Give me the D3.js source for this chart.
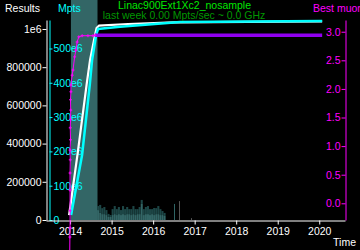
<!DOCTYPE html>
<html>
<head>
<meta charset="utf-8">
<script src="https://cdn.jsdelivr.net/npm/d3@7"></script>
<style>
body { margin: 0; background: #000; }
svg { display: block; background: #000; font-family: "Liberation Sans", Arial, sans-serif; font-size: 10.5px; }
</style>
</head>
<body>
<svg id="chart" width="360" height="250"></svg>
<script>
var title = "Linac900Ext1Xc2_nosample";
var subtitle = "last week 0.00 Mpts/sec ~ 0.0 GHz";

var yearTicks = [2014, 2015, 2016, 2017, 2018, 2019, 2020];
var resultsTicks = [0, 200000, 400000, 600000, 800000, 1000000];
var mptsTicks = [0, 100e6, 200e6, 300e6, 400e6, 500e6];
var muonTicks = [0, 0.5, 1, 1.5, 2, 2.5, 3];

// active period band
var bandStart = 2014.02, bandEnd = 2014.66;

var resultsYears = [2013.976, 2014.193, 2014.397, 2014.481, 2014.553, 2014.601, 2014.638, 2014.698, 2015.40, 2016.50, 2020.07];
var resultsValues = [26000, 366000, 707000, 838000, 916000, 969000, 1005000, 1018000, 1026000, 1035000, 1040000];

var mptsYears = [2014.024, 2014.289, 2014.474, 2014.53, 2014.626, 2014.674, 2015.20, 2016.65, 2020.07];
var mptsValues = [14.6e6, 189.5e6, 393.6e6, 466e6, 539e6, 557e6, 563e6, 577e6, 580e6];

var muonYears = [2013.99, 2013.995, 2014.0, 2014.0, 2014.0, 2014.0, 2014.005, 2014.0, 2014.01, 2014.005,
  2014.01, 2014.015, 2014.01, 2014.02, 2014.02, 2014.05, 2014.07, 2014.11, 2014.14, 2014.17,
  2014.21, 2014.29, 2014.43, 2014.55, 2014.60];
var muonValues = [-0.99, -0.59, -0.43, -0.13, 0.23, 0.53, 0.76, 0.93, 1.11, 1.32,
  1.46, 1.63, 1.81, 1.95, 2.07, 2.24, 2.33, 2.56, 2.68, 2.82,
  2.91, 2.93, 2.93, 2.93, 2.94];

var bestYears = [2014.60, 2020.07];
var bestValues = [2.94, 2.94];

// results per bin (bins 0.05 yr wide)
var histStart = 2014.65, histStep = 0.05;
var histLight = [52000, 37000, 31000, 31000, 26000, 16000, 16000, 26000, 31000, 26000, 31000, 26000, 31000, 26000,
  31000, 31000, 26000, 31000, 26000, 31000, 31000, 84000, 26000, 31000, 31000, 26000, 31000, 26000, 31000,
  31000, 26000, 26000, 21000];
var histDark = [21000, 42000, 31000, 37000, 26000, 16000, 10000, 31000, 42000, 31000, 37000, 26000, 42000, 31000,
  37000, 26000, 31000, 42000, 31000, 26000, 37000, 21000, 31000, 37000, 42000, 31000, 26000, 37000, 31000,
  42000, 31000, 21000, 16000];
var spikeYears = [2016.51, 2016.63, 2016.91];
var spikeValues = [84000, 99000, 10000];

var svg = d3.select("#chart");

var x = d3.scaleLinear().domain([2013.42, 2020.62]).range([46, 345]);
var yRes = d3.scaleLinear().domain([0, 1.047e6]).range([220, 20]);
var yMpts = d3.scaleLinear().domain([0, 583e6]).range([220, 20]);
var yMuon = d3.scaleLinear().domain([-0.292, 3.205]).range([220, 20]);

svg.append("rect")
  .attr("x", x(bandStart))
  .attr("y", 0)
  .attr("width", x(bandEnd) - x(bandStart))
  .attr("height", yRes(0))
  .attr("fill", "#336666");

var bins = histLight.map(function(v, i) {
  return { t: histStart + i * histStep, light: v, dark: histDark[i] };
});
var hist = svg.append("g");
hist.selectAll(".light").data(bins).enter().append("rect")
  .attr("x", function(d) { return x(d.t); })
  .attr("width", x(histStart + histStep) - x(histStart))
  .attr("y", function(d) { return yRes(d.light); })
  .attr("height", function(d) { return yRes(0) - yRes(d.light); })
  .attr("fill", "#336666");
hist.selectAll(".dark").data(bins).enter().append("rect")
  .attr("x", function(d) { return x(d.t); })
  .attr("width", x(histStart + histStep) - x(histStart))
  .attr("y", function(d) { return yRes(d.light + d.dark); })
  .attr("height", function(d) { return yRes(d.light) - yRes(d.light + d.dark); })
  .attr("fill", "#1d4646");
var spikeColors = ["#2f6464", "#555555", "#555555"];
hist.selectAll(".spike").data(spikeYears).enter().append("rect")
  .attr("x", function(d) { return Math.round(x(d)); })
  .attr("width", 1)
  .attr("y", function(d, i) { return yRes(spikeValues[i]); })
  .attr("height", function(d, i) { return yRes(0) - yRes(spikeValues[i]); })
  .attr("fill", function(d, i) { return spikeColors[i]; });

function style_axis(g, color) {
  g.attr("font-family", null).attr("font-size", null);
  g.select(".domain").attr("stroke", color);
  g.selectAll(".tick line").attr("stroke", color);
  g.selectAll(".tick text").attr("fill", color);
}

svg.append("g")
  .attr("transform", "translate(46.5,0)")
  .call(d3.axisLeft(yRes).tickValues(resultsTicks).tickSize(4).tickSizeOuter(0).tickPadding(1)
    .tickFormat(function(d) { return d === 1e6 ? "1e6" : d; }))
  .call(style_axis, "#ffffff");

svg.append("g")
  .attr("transform", "translate(49.5,0)")
  .call(d3.axisRight(yMpts).tickValues(mptsTicks).tickSize(3).tickSizeOuter(0).tickPadding(1)
    .tickFormat(function(d) { return d === 0 ? "0" : (d / 1e6) + "e6"; }))
  .call(style_axis, "#00ffff");

svg.append("g")
  .attr("transform", "translate(345.5,0)")
  .call(d3.axisLeft(yMuon).tickValues(muonTicks).tickSize(4).tickSizeOuter(0).tickPadding(1)
    .tickFormat(d3.format(".1f")))
  .call(style_axis, "#ff00ff");

svg.append("g")
  .attr("transform", "translate(0,220.5)")
  .call(d3.axisBottom(x).tickValues(yearTicks).tickSize(4).tickSizeOuter(0).tickPadding(3)
    .tickFormat(d3.format("d")))
  .call(style_axis, "#ffffff");

var line = d3.line();

svg.append("path")
  .attr("d", line(resultsYears.map(function(t, i) { return [x(t), yRes(resultsValues[i])]; })))
  .attr("fill", "none")
  .attr("stroke", "#ffffff")
  .attr("stroke-width", 2.2);

svg.append("path")
  .attr("d", line(mptsYears.map(function(t, i) { return [x(t), yMpts(mptsValues[i])]; })))
  .attr("fill", "none")
  .attr("stroke", "#00ffff")
  .attr("stroke-width", 2.5);

svg.append("path")
  .attr("d", line(bestYears.map(function(t, i) { return [x(t), yMuon(bestValues[i])]; })))
  .attr("fill", "none")
  .attr("stroke", "#9000f0")
  .attr("stroke-width", 3.5);

var muonPts = muonYears.map(function(t, i) { return [x(t), yMuon(muonValues[i])]; });
svg.append("path")
  .attr("d", line(muonPts))
  .attr("fill", "none")
  .attr("stroke", "#ff00ff")
  .attr("stroke-width", 1);
svg.append("g").selectAll("path").data(muonPts.slice(1)).enter().append("path")
  .attr("d", function(d) {
    return "M" + (d[0] - 1.5) + "," + d[1] + "h3M" + d[0] + "," + (d[1] - 1.5) + "v3";
  })
  .attr("stroke", "#ff00ff")
  .attr("stroke-width", 1);

svg.append("text").attr("x", 5).attr("y", 12).attr("fill", "#ffffff").text("Results");
svg.append("text").attr("x", 58).attr("y", 12).attr("fill", "#00ffff").text("Mpts");
svg.append("text").attr("x", 313).attr("y", 12).attr("fill", "#ff00ff").text("Best muon");
svg.append("text").attr("x", 184.5).attr("y", 8.5).attr("text-anchor", "middle").attr("fill", "#00e600").text(title);
svg.append("text").attr("x", 184).attr("y", 18.5).attr("text-anchor", "middle").attr("fill", "#009600").text(subtitle);
svg.append("text").attr("x", 356).attr("y", 246).attr("text-anchor", "end").attr("fill", "#ffffff").text("Time");
</script>
</body>
</html>
